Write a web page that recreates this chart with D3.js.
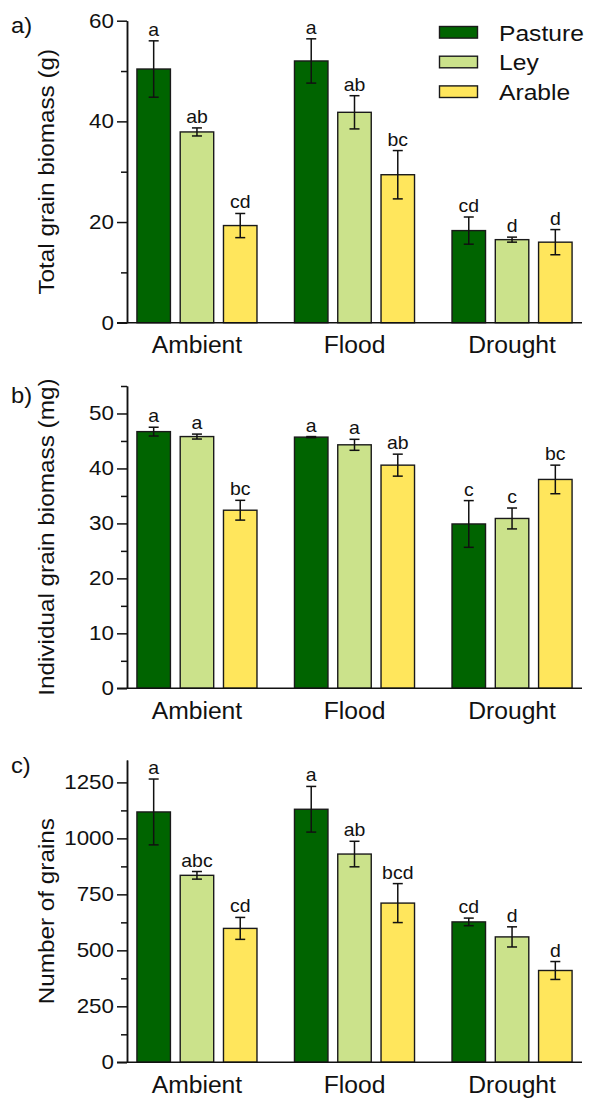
<!DOCTYPE html>
<html>
<head>
<meta charset="utf-8">
<script src="https://cdn.jsdelivr.net/npm/d3@7"></script>
<style>
  html, body { margin: 0; padding: 0; background: #fff; }
  svg { display: block; font-family: "Liberation Sans", Arial, Helvetica, sans-serif; }
</style>
</head>
<body>
<script>
// ---------- data ----------
const groups = ["Ambient", "Flood", "Drought"];
const series = ["Pasture", "Ley", "Arable"];
const seriesColors = ["#006400", "#cbe28b", "#ffe65c"];

// a) Total grain biomass (g): [group][series]
const totalMean = [[50.4, 37.9, 19.3], [52.0, 41.8, 29.4], [18.3, 16.5, 16.0]];
const totalSE = [[5.6, 0.8, 2.4], [4.4, 3.3, 4.8], [2.7, 0.5, 2.5]];
const totalLetters = [["a", "ab", "cd"], ["a", "ab", "bc"], ["cd", "d", "d"]];
const totalMajor = [0, 20, 40, 60];
const totalMinor = [10, 30, 50];

// b) Individual grain biomass (mg)
const indivMean = [[46.7, 45.8, 32.4], [45.7, 44.3, 40.6], [29.9, 30.9, 38.0]];
const indivSE = [[0.8, 0.45, 1.8], [0.1, 1.0, 2.0], [4.25, 1.9, 2.6]];
const indivLetters = [["a", "a", "bc"], ["a", "a", "ab"], ["c", "c", "bc"]];
const indivMajor = [0, 10, 20, 30, 40, 50];
const indivMinor = [5, 15, 25, 35, 45, 55];

// c) Number of grains
const grainsMean = [[1118, 835, 598], [1130, 930, 711], [627, 560, 410]];
const grainsSE = [[147, 17, 49], [102, 57, 87], [17, 45, 40]];
const grainsLetters = [["a", "abc", "cd"], ["a", "ab", "bcd"], ["cd", "d", "d"]];
const grainsMajor = [0, 250, 500, 750, 1000, 1250];
const grainsMinor = [125, 375, 625, 875, 1125];

// ---------- layout ----------
const W = 589, H = 1099;
const axisX = 127, rightX = 582;
const FONT = "Liberation Sans, Arial, sans-serif";
const svg = d3.select("body").append("svg").attr("width", W).attr("height", H);

const x0 = d3.scaleBand().domain(groups).range([axisX, rightX])
  .paddingInner(0.238).paddingOuter(0.063);
const x1 = d3.scaleBand().domain(series).range([0, x0.bandwidth()]).paddingInner(0.226);
const color = d3.scaleOrdinal().domain(series).range(seriesColors);

function panel(cfg) {
  const y = d3.scaleLinear().domain([0, cfg.max]).range([cfg.bottom, cfg.top]);
  const g = svg.append("g");

  // y axis minor ticks
  g.append("g").attr("transform", `translate(${axisX},0)`)
    .call(d3.axisLeft(y).tickValues(cfg.minor).tickSize(6).tickSizeOuter(0).tickFormat(""))
    .call(s => s.selectAll("line,path").attr("stroke", "#111").attr("stroke-width", 1.5));
  // y axis major ticks
  g.append("g").attr("transform", `translate(${axisX},0)`)
    .call(d3.axisLeft(y).tickValues(cfg.major).tickSize(10).tickSizeOuter(0).tickFormat(d3.format("d")))
    .call(s => s.selectAll("line,path").attr("stroke", "#111").attr("stroke-width", 1.5))
    .call(s => s.selectAll("text").attr("font-size", 20).attr("fill", "#111")
      .attr("font-family", FONT).attr("x", null)
      .attr("transform", "translate(-13,0) scale(1.12,1)"));

  // bars
  groups.forEach((grp, gi) => {
    series.forEach((ser, si) => {
      const m = cfg.mean[gi][si], se = cfg.se[gi][si];
      const bx = x0(grp) + x1(ser);
      const bw = x1.bandwidth();
      g.append("rect")
        .attr("x", bx).attr("y", y(m))
        .attr("width", bw).attr("height", y(0) - y(m))
        .attr("fill", color(ser)).attr("stroke", "#1a1a1a").attr("stroke-width", 1.4);
      const cx = bx + bw / 2;
      g.append("line").attr("x1", cx).attr("x2", cx).attr("y1", y(m - se)).attr("y2", y(m + se))
        .attr("stroke", "#111").attr("stroke-width", 1.5);
      [m - se, m + se].forEach(v => {
        g.append("line").attr("x1", cx - 5).attr("x2", cx + 5).attr("y1", y(v)).attr("y2", y(v))
          .attr("stroke", "#111").attr("stroke-width", 1.5);
      });
      g.append("text")
        .attr("transform", `translate(${cx},${y(m + se) - 5}) scale(1.08,1)`)
        .attr("text-anchor", "middle").attr("font-size", 18).attr("fill", "#111")
        .text(cfg.letters[gi][si]);
    });
  });

  // x axis baseline
  g.append("line").attr("x1", axisX - 10).attr("x2", rightX)
    .attr("y1", y(0)).attr("y2", y(0)).attr("stroke", "#111").attr("stroke-width", 1.5);
  // category labels
  g.append("g").attr("transform", `translate(0,${y(0)})`)
    .call(d3.axisBottom(x0).tickSize(0).tickPadding(14))
    .call(s => s.select(".domain").remove())
    .call(s => s.selectAll("text").attr("font-size", 23.5).attr("fill", "#111")
      .attr("font-family", FONT).attr("y", null)
      .attr("transform", "translate(0,14) scale(1.05,1)"));

  // y axis title
  g.append("text")
    .attr("transform", `translate(54,${(y(0) + y(cfg.max)) / 2}) rotate(-90) scale(1.13,1)`)
    .attr("text-anchor", "middle").attr("font-size", 21.5).attr("fill", "#111")
    .text(cfg.title);

  // panel label
  g.append("text")
    .attr("transform", `translate(11,${cfg.labelY}) scale(1.08,1)`)
    .attr("font-size", 22).attr("fill", "#111").text(cfg.label);
}

panel({ top: 20.7, bottom: 322.7, max: 60, major: totalMajor, minor: totalMinor,
  mean: totalMean, se: totalSE, letters: totalLetters,
  title: "Total grain biomass (g)", label: "a)", labelY: 33 });
panel({ top: 386, bottom: 688.3, max: 55, major: indivMajor, minor: indivMinor,
  mean: indivMean, se: indivSE, letters: indivLetters,
  title: "Individual grain biomass (mg)", label: "b)", labelY: 402.5 });
panel({ top: 760, bottom: 1062.3, max: 1350, major: grainsMajor, minor: grainsMinor,
  mean: grainsMean, se: grainsSE, letters: grainsLetters,
  title: "Number of grains", label: "c)", labelY: 772.5 });

// legend
const legend = svg.append("g");
series.forEach((ser, i) => {
  const cy = 32.3 + i * 29.7;
  legend.append("rect").attr("x", 439.5).attr("y", cy - 5.8).attr("width", 38).attr("height", 11.6)
    .attr("fill", color(ser)).attr("stroke", "#1a1a1a").attr("stroke-width", 1.4);
  legend.append("text")
    .attr("transform", `translate(499,${cy + 8.3}) scale(1.12,1)`)
    .attr("font-size", 22).attr("fill", "#111").text(ser);
});
</script>
</body>
</html>
